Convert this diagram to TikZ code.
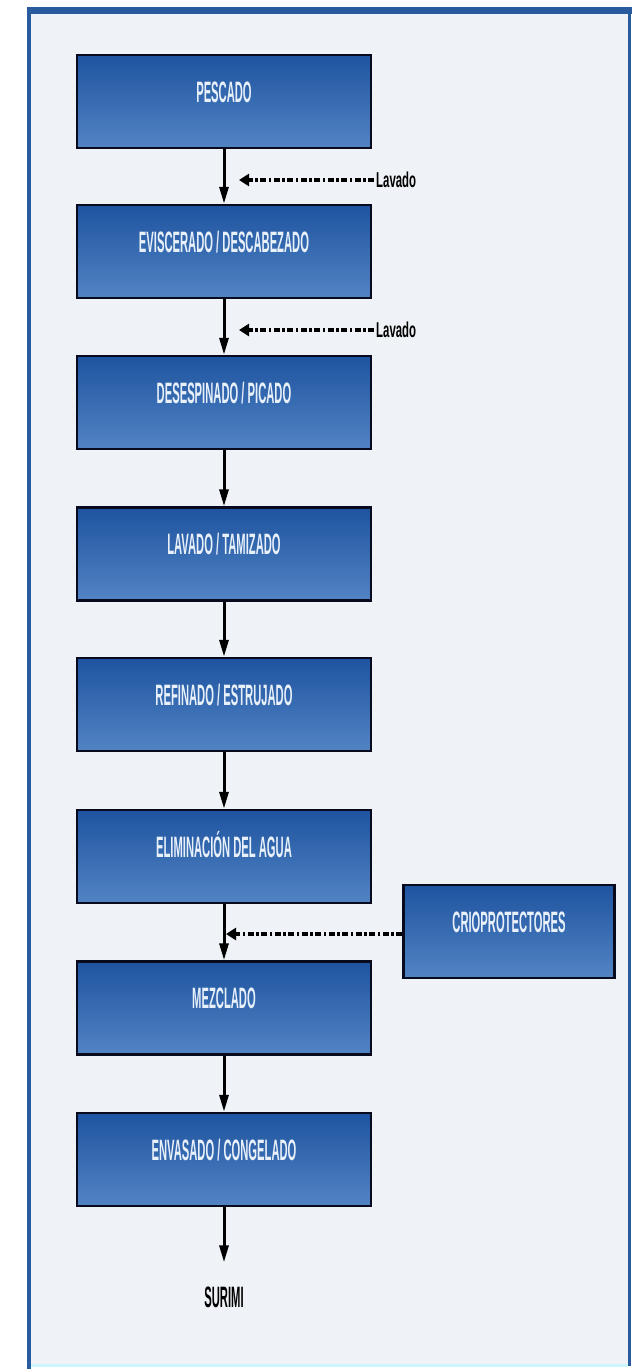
\documentclass[tikz,border=0pt]{standalone}
\usepackage{fontspec}
\setmainfont{Liberation Sans}
\newfontfamily\cnd{Liberation Sans}[FakeStretch=0.38]
\newfontfamily\cndl{Liberation Sans}[FakeStretch=0.53]
\usetikzlibrary{arrows.meta}
\definecolor{framebl}{RGB}{40,92,158}
\definecolor{bgin}{RGB}{239,243,247}
\definecolor{boxtop}{RGB}{30,84,160}
\definecolor{boxbot}{RGB}{82,132,196}
\definecolor{boxline}{RGB}{8,10,30}
\definecolor{boxtxt}{RGB}{232,240,250}
\tikzset{
  stepbox/.style={rectangle, draw=boxline, line width=2.5pt,
    top color=boxtop, bottom color=boxbot,
    minimum width=294pt, inner sep=0pt,
    text height=47pt, text depth=46pt, text=boxtxt,
    font=\cnd\bfseries\fontsize{29.5}{29.5}\selectfont},
  flow/.style={line width=3pt, -{Triangle[length=17pt,width=9pt]}},
  feed/.style={line width=3.5pt, dash pattern=on 6pt off 2.5pt on 2.5pt off 2.5pt,
    -{Triangle[length=10pt,width=12pt]}},
  sidelab/.style={inner sep=2pt, anchor=west, text=black,
    font=\cndl\bfseries\fontsize{21.5}{21.5}\selectfont},
  endlab/.style={inner sep=0pt, text=black,
    font=\cnd\bfseries\fontsize{29.5}{29.5}\selectfont}
}
\begin{document}
\begin{tikzpicture}[x=1pt,y=-1pt]
\useasboundingbox (0,0) rectangle (643,1369);
\fill[white] (0,0) rectangle (643,1369);
\fill[bgin] (29,8) rectangle (631,1366);
\fill[framebl] (28,7) rectangle (632,14);
\fill[framebl] (27,7) rectangle (31,1369);
\fill[framebl] (628,7) rectangle (631,1366);
\fill[blue!15!cyan!20] (31,1364) rectangle (628,1367);

\node[stepbox] (p1) at (224,101.5) {PESCADO};
\node[stepbox] (p2) at (224,251.5) {EVISCERADO / DESCABEZADO};
\node[stepbox] (p3) at (224,402.5) {DESESPINADO / PICADO};
\node[stepbox] (p4) at (224,554) {LAVADO / TAMIZADO};
\node[stepbox] (p5) at (224,704.5) {REFINADO / ESTRUJADO};
\node[stepbox] (p6) at (224,856.5) {ELIMINACIÓN DEL AGUA};
\node[stepbox] (p7) at (224,1008) {MEZCLADO};
\node[stepbox] (p8) at (224,1159.5) {ENVASADO / CONGELADO};
\node[stepbox, minimum width=211pt] (crio) at (509,931.5) {CRIOPROTECTORES};

\node[endlab] (sur) at (224,1297) {SURIMI};

\draw[flow] (p1) -- (p2);
\draw[flow] (p2) -- (p3);
\draw[flow] (p3) -- (p4);
\draw[flow] (p4) -- (p5);
\draw[flow] (p5) -- (p6);
\draw[flow] (p6) -- (p7);
\draw[flow] (p7) -- (p8);
\draw[flow] (p8.south) -- ([yshift=24pt]sur.north);

\node[sidelab] (lav1) at (374,180) {Lavado};
\node[sidelab] (lav2) at (374,330) {Lavado};
\coordinate (t1) at (239,180);
\coordinate (t2) at (239,330);
\coordinate (t3) at (226,934);
\draw[feed] (lav1.west) -- (t1);
\draw[feed] (lav2.west) -- (t2);
\draw[feed] (crio.west |- t3) -- (t3);
\end{tikzpicture}
\end{document}
